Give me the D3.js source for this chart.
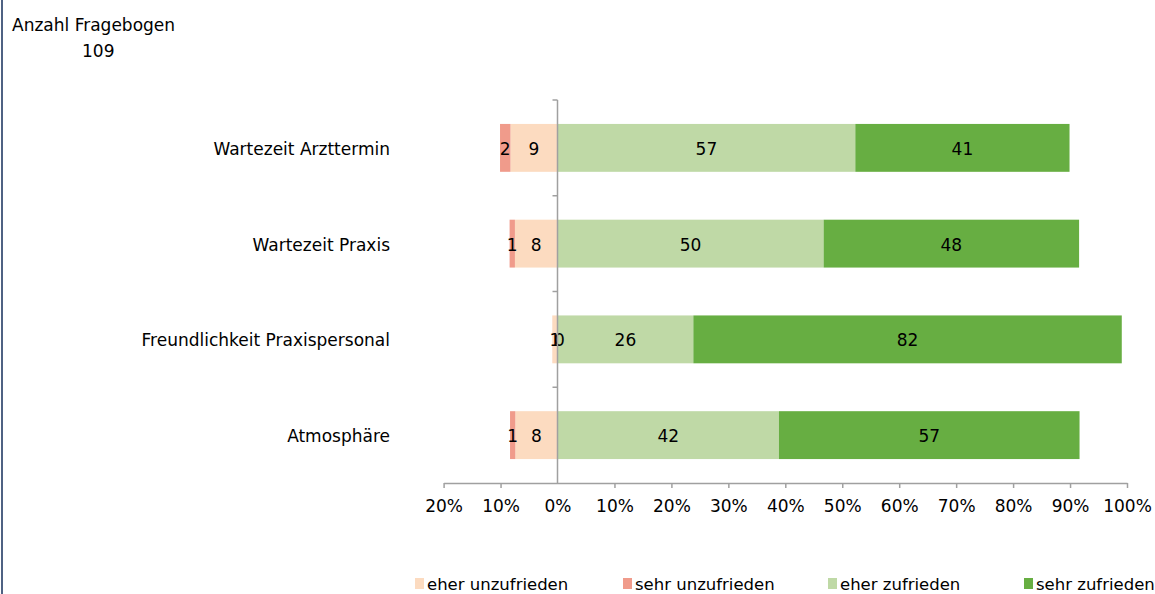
<!DOCTYPE html>
<html>
<head>
<meta charset="utf-8">
<script src="https://cdn.jsdelivr.net/npm/d3@7"></script>
<style>
  body { margin: 0; background: #fff; }
  text { font-family: Verdana, "DejaVu Sans", sans-serif; fill: #000; }
</style>
</head>
<body>
<div id="chart"></div>
<script>
var categories = ["Wartezeit Arzttermin", "Wartezeit Praxis", "Freundlichkeit Praxispersonal", "Atmosphäre"]
var sehrUnzufrieden = [2, 1, 0, 1]
var eherUnzufrieden = [9, 8, 1, 8]
var eherZufrieden = [57, 50, 26, 42]
var sehrZufrieden = [41, 48, 82, 57]
var tickValues = [-0.2, -0.1, 0, 0.1, 0.2, 0.3, 0.4, 0.5, 0.6, 0.7, 0.8, 0.9, 1]
var anzahl = 109

var seriesNames = ["eher unzufrieden", "sehr unzufrieden", "eher zufrieden", "sehr zufrieden"]
var colors = {
    "eher unzufrieden": "#fcdbc0",
    "sehr unzufrieden": "#f09b8b",
    "eher zufrieden": "#bfd9a6",
    "sehr zufrieden": "#67ae42"
}

var width = 1155, height = 594
var fontSize = 17

var svg = d3.select("#chart")
    .append("svg")
        .attr("width", width)
        .attr("height", height)

// frame line on the left
svg.append("line")
    .attr("x1", 2).attr("x2", 2)
    .attr("y1", 0).attr("y2", height)
    .attr("stroke", "#4f6283")
    .attr("stroke-width", 2)

svg.append("text")
    .attr("x", 12).attr("y", 31)
    .style("font-size", fontSize + "px")
    .text("Anzahl Fragebogen")

svg.append("text")
    .attr("x", 82).attr("y", 57)
    .style("font-size", fontSize + "px")
    .text(anzahl)

var x = d3.scaleLinear()
    .domain([-0.2, 1])
    .range([443.6, 1127])

var y = d3.scaleBand()
    .domain(categories)
    .range([100, 483])
    .paddingInner(0.5)
    .paddingOuter(0.25)

// build segments per row, left side stacked from 0 to negative
var segments = []
categories.forEach(function(c, i){
    var total = sehrUnzufrieden[i] + eherUnzufrieden[i] + eherZufrieden[i] + sehrZufrieden[i]
    var eu = eherUnzufrieden[i] / total,
        su = sehrUnzufrieden[i] / total,
        ez = eherZufrieden[i] / total,
        sz = sehrZufrieden[i] / total
    segments.push({cat: c, name: "eher unzufrieden", x0: -eu, x1: 0, v: eherUnzufrieden[i]})
    segments.push({cat: c, name: "sehr unzufrieden", x0: -eu - su, x1: -eu, v: sehrUnzufrieden[i]})
    segments.push({cat: c, name: "eher zufrieden", x0: 0, x1: ez, v: eherZufrieden[i]})
    segments.push({cat: c, name: "sehr zufrieden", x0: ez, x1: ez + sz, v: sehrZufrieden[i]})
})

var bars = svg.append("g")
bars.selectAll("rect")
    .data(segments)
    .enter()
        .append("rect")
        .attr("x", function(d){ return x(d.x0) })
        .attr("width", function(d){ return x(d.x1) - x(d.x0) })
        .attr("y", function(d){ return y(d.cat) })
        .attr("height", y.bandwidth())
        .attr("fill", function(d){ return colors[d.name] })

bars.selectAll("text")
    .data(segments)
    .enter()
        .append("text")
        .attr("x", function(d){
            // empty segments get their label next to the zero line, like the original
            if (d.v == 0) return x(0) + 2
            return (x(d.x0) + x(d.x1)) / 2
        })
        .attr("y", function(d){ return y(d.cat) + y.bandwidth() / 2 + 7 })
        .attr("text-anchor", "middle")
        .style("font-size", fontSize + "px")
        .text(function(d){ return d.v })

// category labels
svg.append("g").selectAll("text")
    .data(categories)
    .enter()
        .append("text")
        .attr("x", 390)
        .attr("y", function(d){ return y(d) + y.bandwidth() / 2 + 7 })
        .attr("text-anchor", "end")
        .style("font-size", fontSize + "px")
        .text(function(d){ return d })

// vertical axis at 0%
var yAxis = svg.append("g")
yAxis.append("line")
    .attr("x1", x(0)).attr("x2", x(0))
    .attr("y1", 100).attr("y2", 483)
    .attr("stroke", "#a0a0a0")
    .attr("stroke-width", 1.5)
yAxis.selectAll(".ytick")
    .data(d3.range(categories.length))
    .enter()
        .append("line")
        .attr("class", "ytick")
        .attr("x1", x(0) - 5).attr("x2", x(0))
        .attr("y1", function(i){ return 100 + i * y.step() })
        .attr("y2", function(i){ return 100 + i * y.step() })
        .attr("stroke", "#a0a0a0")
        .attr("stroke-width", 1.5)

// horizontal axis
var x_axis = d3.axisBottom(x)
    .tickValues(tickValues)
    .tickSize(5)
    .tickSizeOuter(0)
    .tickPadding(12)
    .tickFormat(function(d){ return Math.round(Math.abs(d) * 100) + "%" })

var xg = svg.append("g")
    .attr("transform", "translate(0,483)")
    .call(x_axis)
xg.select(".domain").attr("stroke", "#a0a0a0").attr("stroke-width", 1.5)
xg.selectAll(".tick line").attr("stroke", "#a0a0a0").attr("stroke-width", 1.5)
    .filter(function(d){ return d === 0 }).remove()
xg.selectAll(".tick text")
    .style("font-size", fontSize + "px")
    .attr("font-family", null)

// legend
var legendTextX = [427, 635, 840, 1036]
var legend = svg.append("g")
    .selectAll("g")
    .data(seriesNames)
    .enter()
        .append("g")
        .attr("transform", function(d, i){ return "translate(" + legendTextX[i] + ",578)" })
legend.append("rect")
    .attr("x", -12)
    .attr("width", 9).attr("height", 11)
    .attr("fill", function(d){ return colors[d] })
legend.append("text")
    .attr("x", 0).attr("y", 12)
    .style("font-size", "16.5px")
    .text(function(d){ return d })
</script>
</body>
</html>
